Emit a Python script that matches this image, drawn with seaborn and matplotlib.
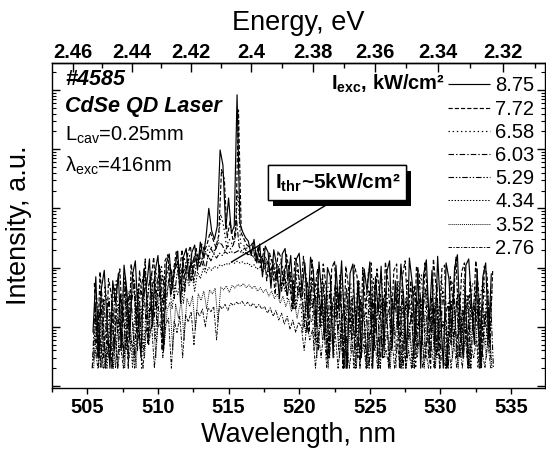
import numpy as np
import pandas as pd
import seaborn as sns
import matplotlib
matplotlib.use("Agg")
import matplotlib.pyplot as plt
from matplotlib import patheffects
from matplotlib.ticker import FixedLocator, LogLocator, NullFormatter

# Excitation intensity of each spectrum, kW/cm^2
pump_levels = ["8.75", "7.72", "6.58", "6.03", "5.29", "4.34", "3.52", "2.76"]

# First sampled wavelength of each spectrum (nm) and the sampling step
wl_start = {"8.75": 505.40, "7.72": 505.50, "6.58": 505.45, "6.03": 505.35,
            "5.29": 505.55, "4.34": 505.40, "3.52": 505.45, "2.76": 505.35}
wl_step = 0.2

# Emission intensity, a.u. (one value per sample)
spec_875 = [
    8, 70, 3, 45, 90, 12, 2, 60, 25, 80,
    4, 110, 40, 6, 75, 130, 15, 3, 95, 50,
    140, 10, 85, 160, 30, 4, 120, 170, 45, 100,
    190, 25, 150, 210, 60, 180, 240, 90, 270, 150,
    320, 1000, 420, 300, 500, 9700, 5400, 450, 1500, 380,
    500, 83000, 560, 400, 320, 280, 160, 300, 120, 250,
    70, 230, 180, 45, 200, 110, 30, 170, 210, 60,
    160, 25, 140, 175, 40, 120, 15, 150, 90, 10,
    125, 35, 6, 100, 70, 3, 110, 20, 130, 12,
    2, 80, 115, 8, 60, 3, 95, 40, 125, 2,
    70, 18, 105, 4, 85, 130, 5, 60, 10, 115,
    30, 3, 145, 55, 6, 100, 2, 75, 135, 12,
    90, 4, 155, 20, 2, 120, 65, 8, 100, 165,
    10, 3, 110, 140, 25, 5, 95, 2, 70, 120, 6, 80,
]
spec_772 = [
    55, 3, 85, 20, 2, 65, 35, 4, 50, 95,
    10, 70, 2, 115, 50, 8, 90, 25, 140, 5,
    60, 150, 20, 110, 4, 130, 165, 35, 90, 185,
    70, 200, 40, 170, 230, 80, 210, 120, 250, 190,
    260, 400, 300, 220, 350, 4500, 3100, 320, 600, 300,
    350, 46000, 380, 300, 240, 220, 260, 130, 230, 100,
    210, 60, 175, 120, 35, 190, 150, 50, 165, 85,
    20, 145, 110, 30, 155, 60, 8, 135, 40, 95,
    10, 115, 50, 3, 95, 130, 15, 75, 2, 105,
    45, 6, 110, 70, 2, 100, 20, 85, 120, 4,
    95, 35, 3, 125, 55, 8, 90, 115, 2, 70,
    130, 15, 60, 3, 105, 80, 5, 120, 30, 2,
    140, 45, 4, 95, 110, 2, 70, 25, 150, 8,
    85, 120, 3, 60, 10, 130, 40, 2, 105, 75, 5, 95,
]
spec_658 = [
    3, 35, 10, 2, 50, 18, 4, 40, 60, 6,
    25, 65, 3, 45, 80, 12, 55, 2, 85, 30,
    70, 15, 95, 40, 110, 25, 80, 120, 50, 105,
    130, 55, 150, 100, 160, 75, 180, 130, 200, 150,
    180, 240, 210, 190, 260, 800, 500, 230, 300, 250,
    280, 2000, 260, 240, 210, 230, 180, 200, 150, 170,
    130, 155, 85, 145, 115, 60, 125, 100, 40, 110,
    70, 20, 95, 55, 8, 85, 40, 70, 4, 60,
    30, 75, 10, 50, 65, 3, 45, 20, 70, 6,
    40, 55, 2, 35, 60, 12, 4, 50, 25, 65,
    8, 45, 70, 3, 30, 55, 15, 2, 60, 35,
    5, 65, 20, 50, 2, 40, 75, 10, 45, 3,
    55, 25, 6, 70, 35, 2, 50, 60, 12, 40,
    3, 65, 30, 8, 55, 45, 2, 35, 70, 15, 4, 50,
]
spec_603 = [
    2, 25, 5, 40, 3, 12, 30, 2, 45, 8,
    35, 3, 50, 10, 28, 60, 4, 38, 70, 12,
    50, 80, 15, 60, 95, 25, 70, 110, 35, 85,
    115, 45, 125, 80, 140, 60, 160, 120, 175, 110,
    190, 150, 210, 170, 225, 270, 240, 190, 235, 205,
    245, 700, 225, 190, 215, 170, 195, 150, 175, 120,
    155, 95, 135, 70, 125, 60, 105, 40, 95, 30,
    80, 20, 70, 35, 60, 10, 55, 25, 65, 6,
    45, 15, 55, 3, 40, 20, 50, 8, 35, 2,
    45, 12, 30, 4, 55, 18, 25, 2, 40, 10,
    50, 3, 35, 15, 45, 2, 30, 20, 55, 6,
    40, 2, 25, 12, 50, 4, 35, 18, 45, 3,
    30, 10, 55, 2, 40, 15, 25, 5, 50, 3,
    35, 8, 45, 2, 30, 12, 55, 4, 25, 10, 40, 3,
]
spec_529 = [
    5, 20, 2, 30, 8, 3, 25, 12, 2, 35,
    15, 4, 40, 20, 3, 45, 10, 30, 55, 6,
    40, 65, 10, 50, 75, 20, 60, 90, 30, 80,
    100, 40, 110, 70, 125, 55, 140, 100, 150, 90,
    160, 130, 170, 145, 175, 160, 185, 170, 190, 175,
    185, 195, 175, 185, 165, 170, 150, 160, 130, 145,
    115, 125, 90, 110, 70, 95, 50, 80, 35, 65,
    55, 20, 50, 30, 45, 8, 40, 22, 35, 4,
    30, 12, 40, 3, 25, 15, 35, 6, 28, 2,
    35, 10, 22, 3, 30, 14, 18, 2, 32, 8,
    25, 2, 30, 12, 20, 4, 35, 9, 22, 2,
    30, 6, 18, 2, 28, 12, 35, 3, 20, 8,
    25, 3, 32, 10, 15, 2, 28, 6, 30, 3,
    20, 8, 35, 2, 25, 12, 30, 3, 18, 6, 28, 2,
]
spec_434 = [
    3, 15, 2, 20, 6, 2, 18, 8, 2, 25,
    10, 3, 28, 12, 2, 30, 8, 22, 4, 35,
    14, 40, 6, 30, 45, 12, 38, 55, 20, 50,
    35, 60, 25, 70, 50, 80, 40, 85, 65, 95,
    80, 100, 90, 105, 98, 112, 106, 118, 112, 124,
    118, 128, 120, 125, 114, 120, 104, 112, 94, 102,
    84, 92, 72, 82, 60, 72, 48, 62, 40, 55,
    35, 48, 22, 40, 30, 12, 35, 20, 28, 5,
    24, 10, 30, 3, 20, 14, 26, 4, 18, 2,
    25, 8, 16, 2, 22, 10, 14, 3, 24, 6,
    18, 2, 22, 9, 14, 3, 26, 7, 16, 2,
    22, 5, 12, 2, 20, 9, 25, 3, 14, 6,
    18, 2, 24, 8, 12, 2, 20, 5, 22, 3,
    15, 6, 25, 2, 18, 9, 22, 3, 12, 5, 20, 2,
]
spec_352 = [
    2, 8, 3, 12, 2, 6, 10, 2, 14, 4,
    9, 2, 15, 5, 11, 2, 17, 6, 3, 18,
    8, 20, 3, 16, 22, 5, 19, 26, 4, 24,
    14, 28, 6, 30, 22, 33, 9, 36, 28, 40,
    20, 42, 36, 45, 12, 47, 42, 49, 38, 50,
    45, 52, 48, 54, 46, 51, 44, 49, 40, 46,
    38, 43, 33, 40, 30, 36, 25, 33, 22, 30,
    18, 27, 14, 24, 20, 8, 22, 12, 18, 3,
    15, 6, 18, 2, 12, 9, 16, 3, 11, 2,
    14, 4, 10, 2, 13, 6, 9, 2, 15, 4,
    11, 2, 13, 5, 8, 2, 14, 4, 9, 2,
    12, 3, 8, 2, 11, 5, 14, 2, 8, 4,
    10, 2, 13, 4, 7, 2, 12, 3, 11, 2,
    9, 3, 14, 2, 10, 5, 12, 2, 7, 3, 11, 2,
]
spec_276 = [
    2, 4, 2, 6, 2, 3, 5, 2, 7, 2,
    5, 2, 8, 3, 6, 2, 9, 4, 2, 10,
    5, 11, 2, 9, 12, 3, 11, 14, 2, 13,
    8, 15, 3, 16, 12, 18, 5, 19, 15, 20,
    10, 21, 18, 22, 6, 23, 20, 24, 19, 25,
    23, 26, 24, 27, 23, 26, 22, 25, 21, 24,
    20, 22, 17, 21, 15, 19, 13, 17, 11, 15,
    9, 13, 8, 12, 10, 4, 11, 6, 9, 2,
    8, 3, 9, 2, 7, 5, 8, 2, 6, 2,
    7, 2, 5, 2, 7, 3, 5, 2, 8, 2,
    6, 2, 7, 3, 4, 2, 7, 2, 5, 2,
    6, 2, 4, 2, 6, 3, 7, 2, 4, 2,
    5, 2, 7, 2, 4, 2, 6, 2, 6, 2,
    5, 2, 7, 2, 5, 3, 6, 2, 4, 2, 6, 2,
]

wavelength_ticks = [505, 510, 515, 520, 525, 530, 535]
energy_ticks = [2.46, 2.44, 2.42, 2.40, 2.38, 2.36, 2.34, 2.32]
energy_minor = [2.45, 2.43, 2.41, 2.39, 2.37, 2.35, 2.33, 2.31]

spectra = dict(zip(pump_levels, [spec_875, spec_772, spec_658, spec_603,
                                 spec_529, spec_434, spec_352, spec_276]))

frames = []
for level, values in spectra.items():
    wl = wl_start[level] + wl_step * np.arange(len(values))
    frames.append(pd.DataFrame({"wavelength": wl, "intensity": values, "level": level}))
df = pd.concat(frames, ignore_index=True)

line_styles = {
    "8.75": (0, ()),
    "7.72": (0, (3.0, 1.5)),
    "6.58": (0, (1.0, 2.0)),
    "6.03": (0, (4.0, 1.5, 1.0, 1.5)),
    "5.29": (0, (4.0, 1.3, 1.0, 1.3, 1.0, 1.3)),
    "4.34": (0, (1.0, 1.2)),
    "3.52": (0, (0.7, 0.7)),
    "2.76": (0, (2.5, 1.0, 1.0, 1.0)),
}
line_widths = {"8.75": 0.85, "7.72": 0.85, "6.58": 0.85, "6.03": 0.8,
               "5.29": 0.8, "4.34": 0.75, "3.52": 0.65, "2.76": 0.65}

sns.set_theme(style="ticks")
plt.rcParams.update({
    "font.family": ["Liberation Sans", "DejaVu Sans"],
    "mathtext.fontset": "custom",
    "mathtext.rm": "Liberation Sans",
    "mathtext.it": "Liberation Sans:italic",
    "mathtext.bf": "Liberation Sans:bold",
    "lines.scale_dashes": False,
    "axes.linewidth": 1.0,
    "axes.edgecolor": "black",
    "text.color": "black",
    "axes.labelcolor": "black",
    "xtick.color": "black",
    "ytick.color": "black",
})

fig = plt.figure(figsize=(5.46, 4.49), dpi=100)
ax = fig.add_axes([52 / 546, 1 - 388 / 449, (545 - 52) / 546, (388 - 63) / 449])

handles = {}
for level in reversed(pump_levels):
    sub = df[df["level"] == level]
    sns.lineplot(data=sub, x="wavelength", y="intensity", ax=ax, color="black",
                 lw=line_widths[level], estimator=None, errorbar=None,
                 sort=False, legend=False)
    line = ax.lines[-1]
    line.set_linestyle(line_styles[level])
    handles[level] = line

ax.set_yscale("log")
ax.set_xlim(502.5, 537.4)
ax.set_ylim(10 ** (-2 / 59.2), 10 ** 5.456)

# Bottom axis: wavelength
ax.set_xticks(wavelength_ticks, labels=[str(t) for t in wavelength_ticks],
              fontweight="bold", fontsize=14.5)
ax.xaxis.set_minor_locator(FixedLocator([502.5, 507.5, 512.5, 517.5, 522.5, 527.5, 532.5, 537.5]))
ax.tick_params(axis="x", which="major", direction="out", length=4, width=1, pad=3,
               top=False, bottom=True)
ax.tick_params(axis="x", which="minor", direction="out", length=2.6, width=1,
               top=False, bottom=True)

# Left/right axis: log intensity, no numbers
ax.yaxis.set_major_locator(LogLocator(base=10, numticks=20))
ax.yaxis.set_minor_locator(LogLocator(base=10, subs=np.arange(2, 10), numticks=50))
ax.yaxis.set_major_formatter(NullFormatter())
ax.yaxis.set_minor_formatter(NullFormatter())
ax.tick_params(axis="y", which="major", direction="in", length=6, width=1,
               left=True, right=True)
ax.tick_params(axis="y", which="minor", direction="in", length=3, width=0.8,
               left=True, right=True)

for side in ["left", "right", "top", "bottom"]:
    ax.spines[side].set_visible(True)
    ax.spines[side].set_linewidth(1.0)


# Top axis: photon energy
def nm_to_ev(x):
    with np.errstate(divide="ignore", invalid="ignore"):
        return 1239.84 / np.asarray(x, dtype=float)


sec = ax.secondary_xaxis("top", functions=(nm_to_ev, nm_to_ev))
sec.set_ticks(energy_ticks, labels=[f"{e:g}" for e in energy_ticks],
              fontweight="bold", fontsize=14.5)
sec.xaxis.set_minor_locator(FixedLocator(energy_minor))
sec.tick_params(axis="x", which="major", direction="in", length=6.5, width=1, pad=1)
sec.tick_params(axis="x", which="minor", direction="in", length=3.5, width=1)
sec.spines["top"].set_linewidth(1.0)
sec.set_xlabel("Energy, eV", fontsize=19.5, labelpad=9)

ax.set_xlabel("Wavelength, nm", fontsize=19.5, labelpad=3.5)
ax.set_ylabel("Intensity, a.u.", fontsize=19.5, labelpad=11)

# Sample description
txt_kw = dict(transform=ax.transAxes, ha="left", va="center")
ax.text(0.026, 0.948, "#4585", fontweight="bold", style="italic", fontsize=15.5, **txt_kw)
ax.text(0.026, 0.866, "CdSe QD Laser", fontweight="bold", style="italic", fontsize=15.5, **txt_kw)
ax.text(0.026, 0.776, "L$_{\\mathregular{cav}}$=0.25mm", fontsize=14.5, **txt_kw)
ax.text(0.026, 0.684, "λ$_{\\mathregular{exc}}$=416nm", fontsize=14.5, **txt_kw)

# Legend of pump intensities
ax.text(0.797, 0.935, "I$_{\\mathbf{exc}}$, kW/cm²", transform=ax.transAxes,
        ha="right", va="center", fontsize=14.5, fontweight="bold")
ax.legend(handles=[handles[l] for l in pump_levels], labels=pump_levels,
          loc="upper right", bbox_to_anchor=(0.979, 0.959), frameon=False,
          fontsize=14.5, handlelength=2.1, handletextpad=0.25, labelspacing=0.21,
          borderpad=0, borderaxespad=0)

# Threshold callout pointing at the 4.34 kW/cm^2 spectrum
ann = ax.annotate("I$_{\\mathbf{thr}}$~5kW/cm²", xy=(515.2, 124), xycoords="data",
                  xytext=(0.579, 0.632), textcoords="axes fraction",
                  ha="center", va="center", fontsize=15, fontweight="bold",
                  bbox=dict(boxstyle="square,pad=0.3", fc="white", ec="black", lw=1.0),
                  arrowprops=dict(arrowstyle="-", color="black", lw=1.0,
                                  relpos=(0.56, 0.0), shrinkA=0, shrinkB=0),
                  zorder=5)
ann.get_bbox_patch().set_path_effects([
    patheffects.withSimplePatchShadow(offset=(3.5, -4.5), shadow_rgbFace="black", alpha=1.0),
    patheffects.Normal(),
])

fig.savefig("out.png", dpi=100)
